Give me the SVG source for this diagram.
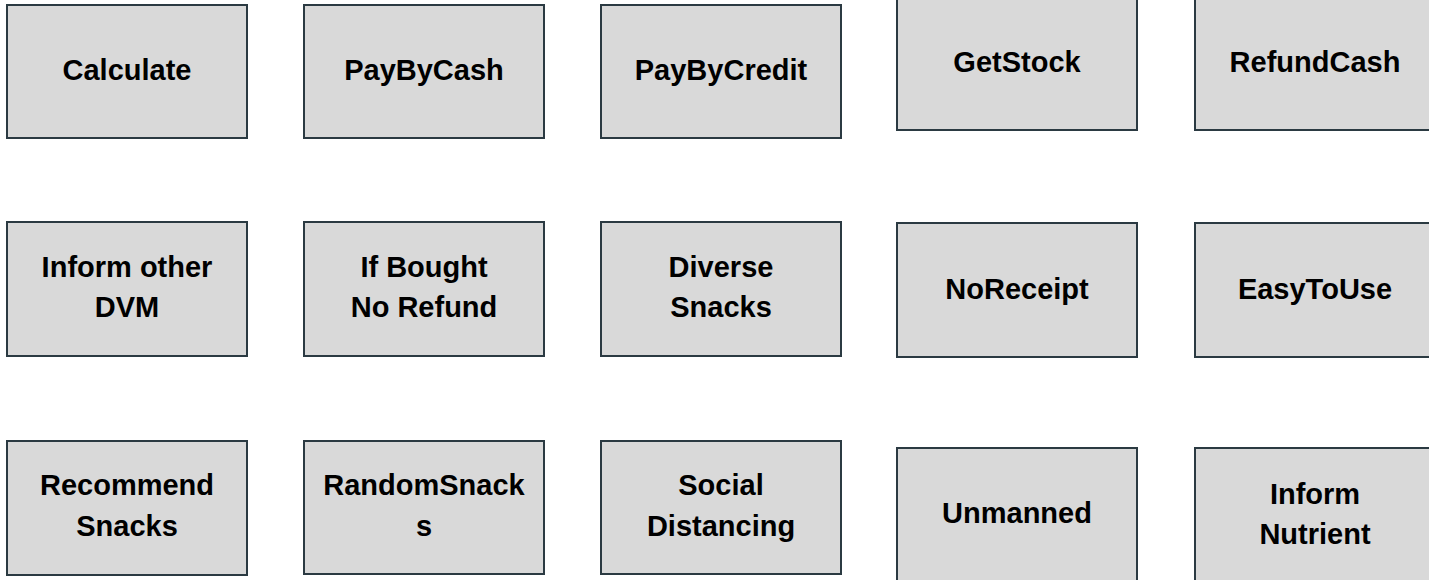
<svg xmlns="http://www.w3.org/2000/svg" width="1429" height="580" viewBox="0 0 1429 580">
<style>
.box{fill:#d9d9d9;stroke:#2b3a42;stroke-width:2}
.t{font-family:"Liberation Sans",Arial,sans-serif;font-weight:bold;font-size:29px;fill:#000;text-anchor:middle}
</style>
<rect width="1429" height="580" fill="#ffffff"/>
<g id="connectors"/>
<g id="calculate"><rect class="box" x="7" y="5" width="240" height="133"/><text class="t" x="127" y="80">Calculate</text></g>
<g id="paybycash"><rect class="box" x="304" y="5" width="240" height="133"/><text class="t" x="424" y="80">PayByCash</text></g>
<g id="paybycredit"><rect class="box" x="601" y="5" width="240" height="133"/><text class="t" x="721" y="80">PayByCredit</text></g>
<g id="getstock"><rect class="box" x="897" y="-4" width="240" height="134"/><text class="t" x="1017" y="72">GetStock</text></g>
<g id="refundcash"><rect class="box" x="1195" y="-4" width="250" height="134"/><text class="t" x="1315" y="72">RefundCash</text></g>

<g id="informdvm"><rect class="box" x="7" y="222" width="240" height="134"/><text class="t" x="127" y="277">Inform other</text><text class="t" x="127" y="317">DVM</text></g>
<g id="ifbought"><rect class="box" x="304" y="222" width="240" height="134"/><text class="t" x="424" y="277">If Bought</text><text class="t" x="424" y="317">No Refund</text></g>
<g id="diverse"><rect class="box" x="601" y="222" width="240" height="134"/><text class="t" x="721" y="277">Diverse</text><text class="t" x="721" y="317">Snacks</text></g>
<g id="noreceipt"><rect class="box" x="897" y="223" width="240" height="134"/><text class="t" x="1017" y="299">NoReceipt</text></g>
<g id="easytouse"><rect class="box" x="1195" y="223" width="250" height="134"/><text class="t" x="1315" y="299">EasyToUse</text></g>

<g id="recommend"><rect class="box" x="7" y="441" width="240" height="134"/><text class="t" x="127" y="495">Recommend</text><text class="t" x="127" y="536">Snacks</text></g>
<g id="random"><rect class="box" x="304" y="441" width="240" height="133"/><text class="t" x="424" y="495">RandomSnack</text><text class="t" x="424" y="536">s</text></g>
<g id="social"><rect class="box" x="601" y="441" width="240" height="133"/><text class="t" x="721" y="495">Social</text><text class="t" x="721" y="536">Distancing</text></g>
<g id="unmanned"><rect class="box" x="897" y="448" width="240" height="140"/><text class="t" x="1017" y="523">Unmanned</text></g>
<g id="nutrient"><rect class="box" x="1195" y="448" width="250" height="140"/><text class="t" x="1315" y="504">Inform</text><text class="t" x="1315" y="544">Nutrient</text></g>
</svg>
